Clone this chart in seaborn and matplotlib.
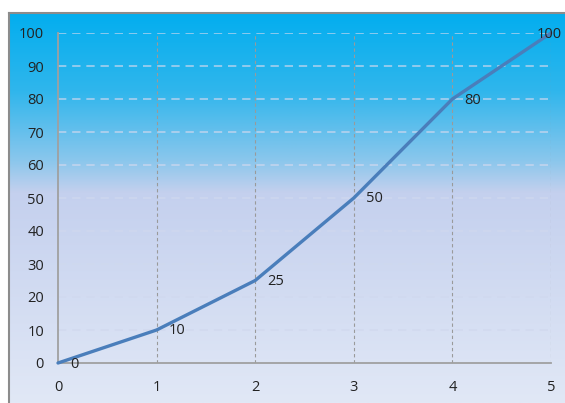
import numpy as np
import matplotlib
matplotlib.use("Agg")
import matplotlib.pyplot as plt
from matplotlib.colors import LinearSegmentedColormap
import pandas as pd
import seaborn as sns

# Series values
x_values = [0, 1, 2, 3, 4, 5]
y_values = [0, 10, 25, 50, 80, 100]
x_ticks = [0, 1, 2, 3, 4, 5]
y_ticks = [0, 10, 20, 30, 40, 50, 60, 70, 80, 90, 100]

df = pd.DataFrame({"x": x_values, "y": y_values})

sns.set_theme(style="white")
plt.rcParams["font.family"] = ["Open Sans", "DejaVu Sans"]

W, H = 565, 403
fig = plt.figure(figsize=(W / 100, H / 100), dpi=100)
fig.patch.set_facecolor("white")

# Gradient backdrop under the chart
bg = fig.add_axes([9 / W, 0, 1 - 9 / W, (H - 13) / H])
cmap = LinearSegmentedColormap.from_list(
    "sky",
    [(0.0, "#03aeef"), (0.20, "#30b6ec"), (0.38, "#8cc7ec"),
     (0.46, "#c4d0ee"), (1.0, "#e1e8f6")],
)
grad = np.linspace(0, 1, 256).reshape(-1, 1)
bg.imshow(grad, aspect="auto", cmap=cmap, extent=[0, 1, 0, 1], origin="upper")
bg.set_xlim(0, 1)
bg.set_ylim(0, 1)
bg.set_xticks([])
bg.set_yticks([])
for side in ["right", "bottom"]:
    bg.spines[side].set_visible(False)
for side in ["top", "left"]:
    bg.spines[side].set_color("#8c8c8c")
    bg.spines[side].set_linewidth(1.5)

ax = fig.add_axes([58 / W, (H - 363) / H, (551 - 58) / W, (363 - 33) / H])
ax.patch.set_alpha(0)

# Grid lines
for yv in y_ticks[1:]:
    ax.axhline(yv, color="#d0d8ee", alpha=0.75, lw=1.2, ls=(0, (5, 3.5)), zorder=1)
for xv in x_ticks[1:]:
    ax.axvline(xv, color="#9a9a9a", lw=0.8, ls=(0, (3, 2.5)), zorder=1)

sns.lineplot(data=df, x="x", y="y", ax=ax, color="#4a7ebb", lw=2.4,
             zorder=3, clip_on=False)

# Value labels beside each point; the last one is right-aligned to stay inside
for i, (xv, yv) in enumerate(zip(x_values, y_values)):
    last = i == len(x_values) - 1
    ax.annotate(str(yv), (xv, yv), xytext=(12 if not last else 11, -1),
                textcoords="offset pixels",
                ha="right" if last else "left", va="center",
                fontsize=10.5, color="#222222",
                annotation_clip=False, zorder=4)

ax.set_xlim(0, 5)
ax.set_ylim(0, 100)
ax.set_xticks(x_ticks)
ax.set_yticks(y_ticks)
ax.set_xlabel("")
ax.set_ylabel("")
for side in ["top", "right"]:
    ax.spines[side].set_visible(False)
for side in ["left", "bottom"]:
    ax.spines[side].set_color("#a0a0a0")
    ax.spines[side].set_linewidth(1.3)
ax.tick_params(axis="both", which="both", direction="out", length=4,
               width=1, color="#a0a0a0", labelsize=10.5, labelcolor="#222222")
ax.tick_params(axis="x", pad=8)
ax.tick_params(axis="y", pad=6)

fig.savefig("out.png", dpi=100)
